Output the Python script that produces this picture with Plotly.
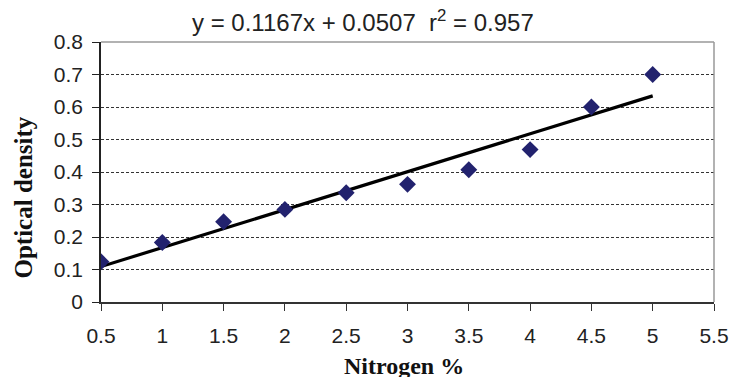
import plotly.graph_objects as go

# Data
nitrogen = [0.5, 1, 1.5, 2, 2.5, 3, 3.5, 4, 4.5, 5]
optical_density = [0.124, 0.183, 0.247, 0.285, 0.336, 0.362, 0.407, 0.469, 0.6, 0.7]
slope = 0.1167
intercept = 0.0507
r2 = 0.957
x_ticks = [0.5, 1, 1.5, 2, 2.5, 3, 3.5, 4, 4.5, 5, 5.5]
y_ticks = [0, 0.1, 0.2, 0.3, 0.4, 0.5, 0.6, 0.7, 0.8]

fit_x = [min(nitrogen), max(nitrogen)]
fit_y = [slope * v + intercept for v in fit_x]

fig = go.Figure()
fig.add_trace(go.Scatter(
    x=fit_x, y=fit_y, mode="lines",
    line=dict(color="black", width=3.2),
    hoverinfo="skip", showlegend=False,
))
fig.add_trace(go.Scatter(
    x=nitrogen, y=optical_density, mode="markers",
    marker=dict(symbol="diamond", size=13, color="#22226e"),
    showlegend=False,
))

axis_font = dict(family="Liberation Sans, Arial, sans-serif", size=21, color="#222")

fig.update_layout(
    width=730, height=377,
    margin=dict(l=101, r=16, t=42, b=75),
    paper_bgcolor="white", plot_bgcolor="white",
    xaxis=dict(
        range=[0.5, 5.5], tickvals=x_ticks, ticktext=[f"{v:g}" for v in x_ticks],
        showgrid=False, zeroline=False, automargin=False,
        showline=True, linecolor="#333", linewidth=1.5,
        ticks="outside", ticklen=7, tickcolor="#333", tickwidth=1,
        tickfont=axis_font, ticklabelstandoff=7,
    ),
    yaxis=dict(
        range=[0, 0.8], tickvals=y_ticks, ticktext=[f"{v:g}" for v in y_ticks],
        showgrid=True, gridcolor="#333", griddash="3px,2px", gridwidth=1,
        zeroline=False, automargin=False,
        showline=True, linecolor="#222", linewidth=1.5,
        ticks="outside", ticklen=7, tickcolor="#222", tickwidth=1,
        tickfont=axis_font, ticklabelstandoff=5,
    ),
    shapes=[
        dict(type="line", xref="x domain", yref="y domain", x0=0, x1=1, y0=1, y1=1,
             line=dict(color="#999", width=1.5)),
        dict(type="line", xref="x domain", yref="y domain", x0=1, x1=1, y0=0, y1=1,
             line=dict(color="#999", width=1.5)),
    ],
    annotations=[
        dict(text=f"y = {slope}x + {intercept}  r<sup>2</sup> = {r2}",
             xref="paper", yref="paper", x=0.428, y=1.082,
             xanchor="center", yanchor="middle", showarrow=False,
             font=dict(family="Liberation Sans, Arial, sans-serif", size=24, color="#222")),
        dict(text="<b>Optical density</b>", textangle=-90,
             xref="paper", yref="paper", x=-0.128, y=0.40,
             xanchor="center", yanchor="middle", showarrow=False,
             font=dict(family="Liberation Serif, Times New Roman, serif", size=25, color="#111")),
        dict(text="<b>Nitrogen %</b>",
             xref="paper", yref="paper", x=0.494, y=-0.245,
             xanchor="center", yanchor="middle", showarrow=False,
             font=dict(family="Liberation Serif, Times New Roman, serif", size=24, color="#111")),
    ],
)

fig.write_html(
    "out.html",
    config={"displayModeBar": False},
    post_script="document.body.style.margin='0';document.body.style.overflow='hidden';",
)
